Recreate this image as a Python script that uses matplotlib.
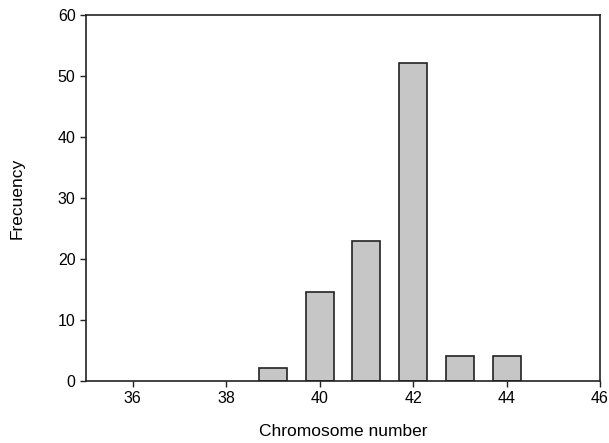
import matplotlib
matplotlib.use("Agg")
import matplotlib.pyplot as plt

plt.rcParams['font.family'] = ['Liberation Sans', 'DejaVu Sans']

chromosomes = [39, 40, 41, 42, 43, 44]
frequency = [2.08, 14.58, 22.92, 52.08, 4.17, 4.17]

fig = plt.figure(figsize=(6.09, 4.43), dpi=100)
ax = fig.add_axes([86/609, 1-381/443, (600-86)/609, (381-15)/443])

ax.bar(chromosomes, frequency, width=0.6, color='#c6c6c6', edgecolor='#222222', linewidth=1.2)

ax.set_xlim(35, 46)
ax.set_ylim(0, 60)
ax.set_xticks(range(36, 47, 2))
ax.set_yticks(range(0, 61, 10))
ax.tick_params(direction='out', length=4, width=1, labelsize=11.5, color='#222222')
for s in ax.spines.values():
    s.set_linewidth(1.2)
    s.set_color('#222222')

ax.set_xlabel("Chromosome number", fontsize=12.5, labelpad=13)
ax.set_ylabel("Frecuency", fontsize=12.5, labelpad=24)

fig.savefig("out.png", dpi=100)
